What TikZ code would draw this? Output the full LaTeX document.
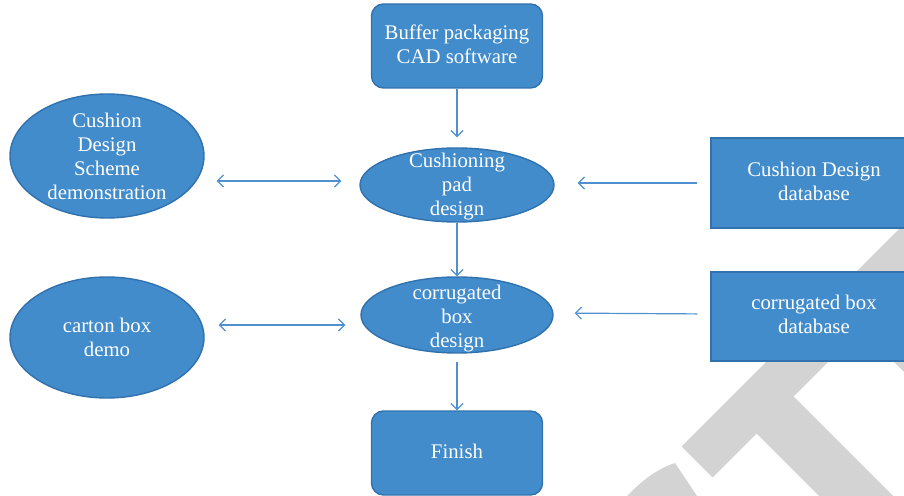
\documentclass[tikz,border=0pt]{standalone}
\usepackage{fontspec}
\setmainfont{Liberation Serif}
\usetikzlibrary{shapes.geometric,arrows.meta,calc}
\definecolor{shapefill}{RGB}{66,140,204}
\definecolor{shapeedge}{RGB}{49,113,173}
\definecolor{linkblue}{RGB}{80,143,208}
\definecolor{markgray}{RGB}{211,211,211}
\tikzset{
  box/.style={draw=shapeedge, fill=shapefill, line width=0.7pt,
    minimum width=85.5pt, minimum height=42pt, inner sep=0pt},
  roundbox/.style={box, rounded corners=6pt},
  oval/.style={ellipse, draw=shapeedge, fill=shapefill, line width=0.7pt, inner sep=0pt},
  txt/.style={text=white, align=center, inner sep=0pt, font=\fontsize{10.4}{12}\selectfont},
  link/.style={draw=linkblue, line width=0.6pt, -{Straight Barb[length=3pt,width=6pt]}},
  twoway/.style={draw=linkblue, line width=0.6pt,
    {Straight Barb[length=3pt,width=6pt]}-{Straight Barb[length=3pt,width=6pt]}},
}
\begin{document}
\begin{tikzpicture}[x=0.5pt,y=-0.5pt]
\useasboundingbox (0,0) rectangle (904,496);
\clip (0,0) rectangle (904,496);

% grey background mark
\begin{scope}[fill=markgray]
  \fill (681.5,446.5) -- (914,214) -- (945,245) -- (712.5,477.5) -- cycle;
  \fill (751.5,428.5) -- (788.5,391.5) -- (917,520) -- (843,520) -- cycle;
  \fill (856,324) -- (890,290) -- (990,390) -- (960,428) -- cycle;
  \fill (622,502) .. controls (637,484) and (656,469) .. (675,463) -- (701,502) -- cycle;
\end{scope}

% main chain
\node[roundbox] (buf) at (457,46) {};
\node[txt] (buft) at (457,44) {Buffer packaging\\CAD software};

\node[oval, minimum width=97pt, minimum height=37pt] (cpd) at (457,185) {};
\node[txt] (cpdt) at (457,187) {Cushioning\\pad\\design};

\node[oval, minimum width=96pt, minimum height=38pt] (cbd) at (457,315) {};
\node[txt] (cbdt) at (457,319) {corrugated\\box\\design};

\node[roundbox] (fin) at (457,453) {};
\node[txt] (fint) at (457,451) {Finish};

% left side
\node[oval, minimum width=97pt, minimum height=62pt] (scheme) at (107,156) {};
\node[txt] (schemet) at (107,156) {Cushion\\Design\\Scheme\\demonstration};

\node[oval, minimum width=97pt, minimum height=60.5pt] (carton) at (107,337.5) {};
\node[txt] (cartont) at (107,337) {carton box\\demo};

% right side
\node[box, minimum width=103pt, minimum height=45pt] (db1) at (814,183) {};
\node[txt] (db1t) at (814,181) {Cushion Design\\database};

\node[box, minimum width=103pt, minimum height=44.5pt] (db2) at (814,316.5) {};
\node[txt] (db2t) at (814,314) {corrugated box\\database};

% connectors
\draw[link, shorten >=5pt] (buf.south) -- (cpd.north);
\draw[link] (cpd.south) -- (cbd.north);
\draw[link, shorten <=4pt] (cbd.south) -- (fin.north);

\draw[twoway, shorten <=6pt, shorten >=9pt]
  ($(scheme.east |- cpd.west)+(0,-4)$) -- ($(cpd.west)+(0,-4)$);
\draw[link, shorten <=6.5pt, shorten >=11.5pt] (db1.west) -- (db1.west -| cpd.east);

\draw[twoway, shorten <=7pt, shorten >=7.5pt]
  ($(carton.east)+(0,-12.5)$) -- ($(cbd.west)+(0,10)$);
\draw[link, shorten <=6.5pt, shorten >=10.5pt]
  ($(db2.west)+(0,-2.5)$) -- ($(cbd.east)+(0,-2)$);
\end{tikzpicture}
\end{document}
